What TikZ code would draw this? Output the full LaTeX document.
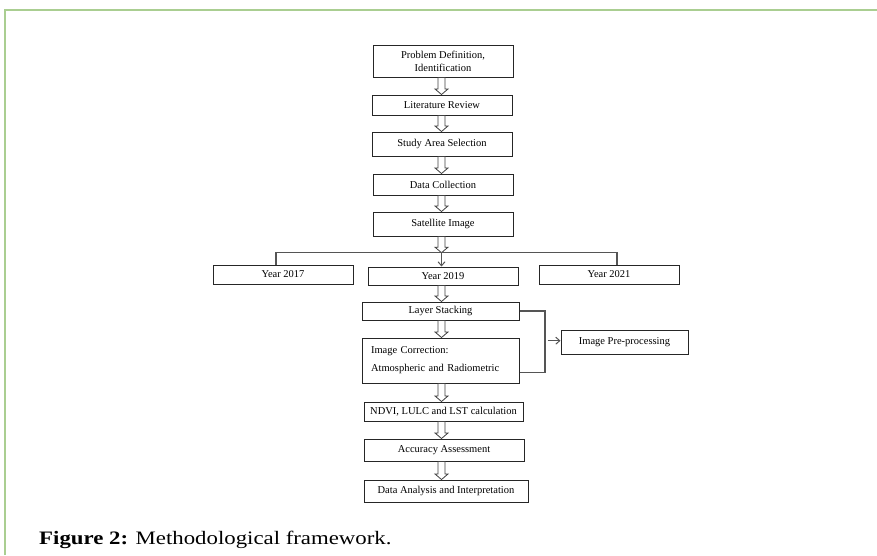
\documentclass[tikz,border=0pt]{standalone}
\usepackage{fontspec}
\setmainfont{Liberation Serif}
\usetikzlibrary{calc,arrows.meta}
\definecolor{framegreen}{RGB}{170,206,145}
\definecolor{linegray}{RGB}{85,85,85}
\begin{document}
\begin{tikzpicture}[x=1pt,y=-1pt,
  box/.style={draw=black!85,line width=1pt,inner sep=1pt,align=center,
    font=\fontsize{10.5}{13}\selectfont},
  hollow/.style={draw=black!75,line width=0.8pt,fill=white,
    to path={let \p1=(\tikztostart), \p2=(\tikztotarget) in
      (\x1-3.5pt,\y1) -- (\x1+3.5pt,\y1) -- (\x1+3.5pt,\y2+5.5pt) -- (\x1+6.5pt,\y2+5.5pt)
      -- (\x1,\y2) -- (\x1-6.5pt,\y2+5.5pt) -- (\x1-3.5pt,\y2+5.5pt) -- cycle}},
  conn/.style={draw=linegray,line width=1.1pt},
  thinarrow/.style={conn,-{Straight Barb[length=4pt,width=7pt,line width=1pt]}}
]
\useasboundingbox (0,0) rectangle (877,555);
% frame
\draw[framegreen,line width=2pt] (5,555) -- (5,10) -- (877,10);

% boxes
\node[box,minimum width=140,minimum height=32] (pd) at (443,61) {Problem Definition,\\Identification};
\node[box,minimum width=140,minimum height=20] (lr) at (442,105) {Literature Review};
\node[box,minimum width=140,minimum height=24] (sa) at (442,144) {Study Area Selection};
\node[box,minimum width=140,minimum height=21] (dc) at (443,184.5) {Data Collection};
\node[box,minimum width=140,minimum height=24] (si) at (443,224) {Satellite Image};
\node[box,minimum width=140,minimum height=19] (y17) at (283,274.5) {Year 2017};
\node[box,minimum width=150,minimum height=18] (y19) at (443,276) {Year 2019};
\node[box,minimum width=140,minimum height=19] (y21) at (609,274.5) {Year 2021};
\node[box,minimum width=157,minimum height=18] (ls) at (440.5,311) {Layer Stacking};
\node[box,minimum width=157,minimum height=45,align=left,text width=139] (ic) at (440.5,360.5)
  {Image Correction:\\[5pt]Atmospheric and Radiometric};
\node[box,minimum width=127,minimum height=24] (ip) at (624.5,342) {Image Pre-processing};
\node[box,minimum width=159,minimum height=19] (nd) at (443.5,411.5) {NDVI, LULC and LST calculation};
\node[box,minimum width=160,minimum height=22] (aa) at (444,450) {Accuracy Assessment};
\node[box,minimum width=164,minimum height=22] (da) at (446,491) {Data Analysis and Interpretation};

% helper coordinates
\coordinate (ax) at (441.5,0);
\coordinate (hub) at (441.5,252.7);
\coordinate (hl) at (276,252.7);
\coordinate (hr) at (617,252.7);
\coordinate (brk) at (545,372.5);
\coordinate (ipin) at (547.5,340.7);

% hollow arrows
\draw[hollow] (pd.south -| ax) to (lr.north -| ax);
\draw[hollow] (lr.south -| ax) to (sa.north -| ax);
\draw[hollow] (sa.south -| ax) to (dc.north -| ax);
\draw[hollow] (dc.south -| ax) to (si.north -| ax);
\draw[hollow] (si.south -| ax) to (hub);
\draw[hollow] (y19.south -| ax) to (ls.north -| ax);
\draw[hollow] (ls.south -| ax) to (ic.north -| ax);
\draw[hollow] (ic.south -| ax) to (nd.north -| ax);
\draw[hollow] (nd.south -| ax) to (aa.north -| ax);
\draw[hollow] (aa.south -| ax) to (da.north -| ax);

% branch
\draw[conn] (y17.north -| hl) -- (hl) -- (hr) -- (y21.north -| hr);
\draw[thinarrow] (hub) -- (y19.north -| hub);

% bracket
\draw[conn] (ls.east) -| (brk) -- (ic.east |- brk);
\draw[thinarrow] (ipin) -- (ip.west |- ipin);

% caption
\node[anchor=base west,font=\fontsize{19}{22}\selectfont,xscale=1.2,transform shape,inner sep=0] (cap) at (39,544)
  {\textbf{Figure 2:} Methodological framework.};
\end{tikzpicture}
\end{document}
